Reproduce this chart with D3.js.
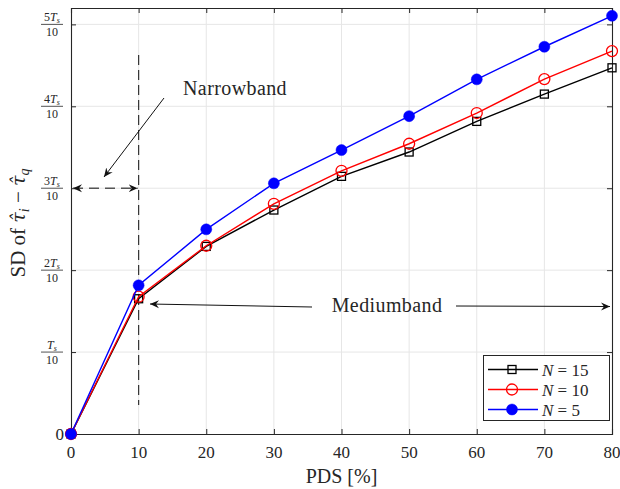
<!DOCTYPE html>
<html><head><meta charset="utf-8">
<script src="https://cdn.jsdelivr.net/npm/d3@7"></script>
<style>body{margin:0;background:#fff}svg text{font-family:"Liberation Serif","DejaVu Serif",serif;fill:#262626}</style>
</head><body><svg id="c" width="620" height="489"></svg>
<script>
const pds = [0,10,20,30,40,50,60,70,80];
const n15 = [0,0.1651,0.229,0.2734,0.3145,0.3442,0.3816,0.4149,0.447];
const n10 = [0,0.1676,0.2298,0.281,0.3213,0.3543,0.3918,0.4332,0.4674];
const n5  = [0,0.1815,0.2498,0.306,0.3466,0.388,0.4329,0.4727,0.5105];
const xTicks = [0,10,20,30,40,50,60,70,80];
const yTicks = [0,0.1,0.2,0.3,0.4,0.5];
const yNums = ["0","","2","3","4","5"];
const seriesNames = ["N = 15","N = 10","N = 5"];

const svg = d3.select("#c");
const L=71,R=612,T=8,B=434;
const x = d3.scaleLinear().domain([0,80]).range([L,R]);
const y = d3.scaleLinear().domain([0,0.52]).range([B,T]);

// grid
const g = svg.append("g");
g.selectAll(".gx").data(xTicks.slice(1,-1)).join("line").attr("x1",d=>x(d)).attr("x2",d=>x(d)).attr("y1",T).attr("y2",B).attr("stroke","#e6e6e6").attr("stroke-width",1);
g.selectAll(".gy").data(yTicks.slice(1)).join("line").attr("y1",d=>y(d)).attr("y2",d=>y(d)).attr("x1",L).attr("x2",R).attr("stroke","#e6e6e6").attr("stroke-width",1);

// axes box with inward ticks
const xb = d3.axisBottom(x).tickValues(xTicks).tickSize(-5).tickFormat("");
const xt = d3.axisTop(x).tickValues(xTicks).tickSize(-5).tickFormat("");
const yl = d3.axisLeft(y).tickValues(yTicks).tickSize(-5).tickFormat("");
const yr = d3.axisRight(y).tickValues(yTicks).tickSize(-5).tickFormat("");
[[xb,`translate(0,${B})`],[xt,`translate(0,${T})`],[yl,`translate(${L},0)`],[yr,`translate(${R},0)`]].forEach(([a,t])=>{
  const ax=svg.append("g").attr("transform",t).call(a);
  ax.selectAll("path").attr("stroke","#262626").attr("stroke-width",1.1);
  ax.selectAll("line").attr("stroke","#262626");
});

// x tick labels
svg.selectAll(".xl").data(xTicks).join("text").attr("x",d=>x(d)).attr("y",B+24).attr("text-anchor","middle").attr("font-size",17).text(d=>d);
svg.append("text").attr("x",(L+R)/2).attr("y",483).attr("text-anchor","middle").attr("font-size",20).text("PDS [%]");

// y tick labels (fractions)
yTicks.forEach((v,i)=>{
  const yy=y(v);
  if(i===0){svg.append("text").attr("x",64).attr("y",yy+6).attr("text-anchor","end").attr("font-size",17).text("0");return;}
  const cx=52;
  const num=svg.append("text").attr("x",cx).attr("y",yy-3).attr("text-anchor","middle").attr("font-size",12);
  if(yNums[i]) num.append("tspan").text(yNums[i]);
  num.append("tspan").attr("font-style","italic").text("T");
  num.append("tspan").attr("font-style","italic").attr("font-size",8).attr("dy",2).text("s");
  svg.append("line").attr("x1",cx-11).attr("x2",cx+11).attr("y1",yy).attr("y2",yy).attr("stroke","#262626").attr("stroke-width",0.8);
  svg.append("text").attr("x",cx).attr("y",yy+12).attr("text-anchor","middle").attr("font-size",12).text("10");
});

// y axis label
const ylab=svg.append("text").attr("transform",`translate(25,${(T+B)/2+2}) rotate(-90)`).attr("text-anchor","middle").attr("font-size",21);
ylab.append("tspan").text("SD of ");
ylab.append("tspan").attr("font-family","DejaVu Serif").attr("font-style","italic").attr("font-size",19).text("τ\u0302");
ylab.append("tspan").attr("font-style","italic").attr("font-size",14).attr("dy",4).text("i");
ylab.append("tspan").attr("dy",-4).text(" − ");
ylab.append("tspan").attr("font-family","DejaVu Serif").attr("font-style","italic").attr("font-size",19).text("τ\u0302");
ylab.append("tspan").attr("font-style","italic").attr("font-size",14).attr("dy",4).text("q");

// defs arrow
const defs=svg.append("defs");
defs.append("marker").attr("id","ah").attr("viewBox","0 0 10 10").attr("refX",9).attr("refY",5).attr("markerWidth",10).attr("markerHeight",10).attr("markerUnits","userSpaceOnUse").attr("orient","auto-start-reverse")
  .append("path").attr("d","M0,1 L9,5 L0,9 L3,5 Z").attr("fill","#111");

// annotations
svg.append("line").attr("x1",x(10)).attr("x2",x(10)).attr("y1",55).attr("y2",405).attr("stroke","#333").attr("stroke-width",1.2).attr("stroke-dasharray","10,5");
svg.append("line").attr("x1",x(0)+2).attr("x2",x(10)-1).attr("y1",y(0.3)).attr("y2",y(0.3)).attr("stroke","#555").attr("stroke-width",1.5).attr("stroke-dasharray","10,6")
  .attr("marker-start","url(#ah)").attr("marker-end","url(#ah)");
svg.append("line").attr("x1",164).attr("y1",98).attr("x2",104).attr("y2",177).attr("stroke","#111").attr("stroke-width",1).attr("marker-end","url(#ah)");
svg.append("text").attr("x",235).attr("y",95).attr("text-anchor","middle").attr("font-size",20).attr("letter-spacing",0.4).text("Narrowband");
svg.append("line").attr("x1",312).attr("y1",307).attr("x2",150).attr("y2",304).attr("stroke","#111").attr("stroke-width",1).attr("marker-end","url(#ah)");
svg.append("line").attr("x1",456).attr("y1",306).attr("x2",610).attr("y2",306.5).attr("stroke","#111").attr("stroke-width",1).attr("marker-end","url(#ah)");
svg.append("text").attr("x",387).attr("y",312).attr("text-anchor","middle").attr("font-size",20).attr("letter-spacing",0.4).text("Mediumband");

// series
const series=[
  {vals:n15,color:"#000",marker:"square"},
  {vals:n10,color:"#ff0000",marker:"open"},
  {vals:n5,color:"#0000ff",marker:"filled"}];
const line=d3.line().x((d,i)=>x(pds[i])).y(d=>y(d));
function drawMarker(sel,s,cx,cy){
  if(s.marker==="square") sel.append("rect").attr("x",cx-4).attr("y",cy-4).attr("width",8).attr("height",8).attr("fill","none").attr("stroke",s.color).attr("stroke-width",1.3);
  else if(s.marker==="open") sel.append("circle").attr("cx",cx).attr("cy",cy).attr("r",5.5).attr("fill","none").attr("stroke",s.color).attr("stroke-width",1.3);
  else sel.append("circle").attr("cx",cx).attr("cy",cy).attr("r",5.5).attr("fill",s.color).attr("stroke",s.color).attr("stroke-width",0.5);
}
series.forEach(s=>{
  const gs=svg.append("g");
  gs.append("path").attr("d",line(s.vals)).attr("fill","none").attr("stroke",s.color).attr("stroke-width",1.4);
  s.vals.forEach((v,i)=>drawMarker(gs,s,x(pds[i]),y(v)));
});

// legend
const lg=svg.append("g");
lg.append("rect").attr("x",483.5).attr("y",355.5).attr("width",126).attr("height",65).attr("fill","#fff").attr("stroke","#262626").attr("stroke-width",1);
[series[0],series[1],series[2]].forEach((s,i)=>{
  const yy=369.5+i*20;
  lg.append("line").attr("x1",488).attr("x2",538).attr("y1",yy).attr("y2",yy).attr("stroke",s.color).attr("stroke-width",1.4);
  drawMarker(lg,s,512,yy);
  const t=lg.append("text").attr("x",542).attr("y",yy+6).attr("font-size",17);
  const parts=seriesNames[i].split(" = ");
  t.append("tspan").attr("font-style","italic").text(parts[0]);
  t.append("tspan").text(" = "+parts[1]);
});
</script></body></html>
